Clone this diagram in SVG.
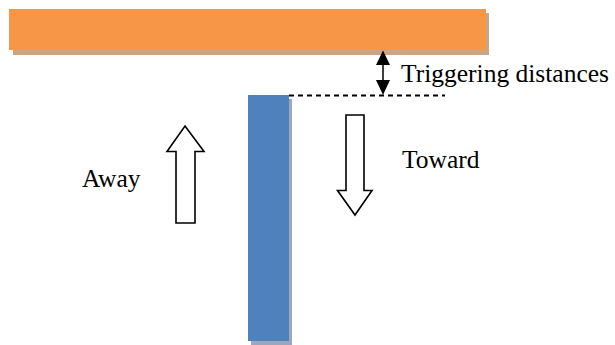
<svg xmlns="http://www.w3.org/2000/svg" width="615" height="345" viewBox="0 0 615 345">
<style>
.lbl{font-family:"Liberation Serif","Times New Roman",serif;font-size:25.5px;fill:#000}
.hollow{fill:#fff;stroke:#000;stroke-width:1.6;stroke-linejoin:miter}
</style>
<rect width="615" height="345" fill="#fff"/>
<g id="plate">
<rect x="13" y="13" width="476" height="42" fill="#c9a485"/>
<rect x="9" y="9" width="477" height="41" fill="#f79646"/>
</g>
<g id="bar">
<rect x="251" y="99" width="41" height="246" fill="#9aa7bd"/>
<rect x="248" y="95" width="41" height="246" fill="#4f81bd"/>
</g>
<g id="connectors">
<line x1="289" y1="95.5" x2="445" y2="95.5" stroke="#000" stroke-width="1.8" stroke-dasharray="5,4"/>
<line x1="383" y1="62" x2="383" y2="83" stroke="#000" stroke-width="1.5"/>
<path d="M383,50.5 L376,65 L390,65 Z" fill="#000"/>
<path d="M383,95 L376,80 L390,80 Z" fill="#000"/>
</g>
<g id="away-arrow">
<path class="hollow" d="M185,126 L204,151.5 L195,151.5 L195,223 L176,223 L176,151.5 L167,151.5 Z"/>
</g>
<g id="toward-arrow">
<path class="hollow" d="M346,115 L364,115 L364,190.5 L372,190.5 L355,215 L337.5,190.5 L346,190.5 Z"/>
</g>
<g id="labels">
<text class="lbl" x="401" y="82">Triggering distances</text>
<text class="lbl" x="402" y="168">Toward</text>
<text class="lbl" x="82" y="187">Away</text>
</g>
</svg>
